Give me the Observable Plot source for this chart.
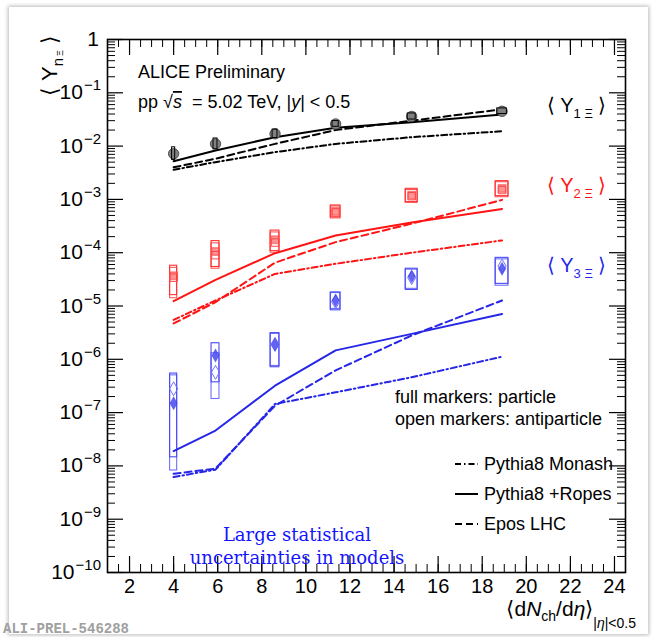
<!DOCTYPE html>
<html>
<head>
<meta charset="utf-8">
<script src="https://cdn.jsdelivr.net/npm/d3@7"></script>
<script src="https://cdn.jsdelivr.net/npm/@observablehq/plot@0.6"></script>
<style>
  html, body { margin: 0; padding: 0; background: #ffffff; }
  #wrap { position: relative; width: 652px; height: 637px; overflow: hidden; }
  #card { position: absolute; left: 9px; top: 7px; width: 639px; height: 627px;
          background: #fff; box-shadow: 0 0 4px 1px rgba(0,0,0,0.28); }
  #chart { position: absolute; left: 0; top: 0; }
</style>
</head>
<body>
<div id="wrap"><div id="card"></div><div id="chart"></div></div>
<script>
// Multiplicity classes, <dN_ch/deta> at |eta| < 0.5
const mult = [4.0, 5.9, 8.6, 11.35, 14.8, 18.9];
// Half-widths (in <dN_ch/deta>) of the systematic boxes
const boxHalfY1 = [0.07, 0.09, 0.11, 0.14, 0.18, 0.22];
const boxHalf = [0.16, 0.18, 0.2, 0.22, 0.27, 0.29];

// <Y_1Xi>
const y1Particle = [7.2e-3, 1.1e-2, 1.7e-2, 2.6e-2, 3.6e-2, 4.5e-2];
const y1SysLow = [5.5e-3, 8.7e-3, 1.42e-2, 2.3e-2, 3.15e-2, 4.0e-2];
const y1SysHigh = [9.5e-3, 1.39e-2, 2.04e-2, 2.95e-2, 4.1e-2, 5.1e-2];

// <Y_2Xi>
const y2Particle = [3.7e-5, 1.05e-4, 1.75e-4, 6.0e-4, 1.2e-3, 1.6e-3];
const y2Anti = [3.4e-5, 9.0e-5, 1.55e-4, 5.7e-4, 1.15e-3, 1.5e-3];
const y2SysLow = [1.6e-5, 5.4e-5, 1.07e-4, 4.6e-4, 8.9e-4, 1.15e-3];
const y2SysHigh = [5.7e-5, 1.65e-4, 2.6e-4, 7.7e-4, 1.58e-3, 2.2e-3];
const y2AntiSysLow = [1.4e-5, 5.0e-5, 1.0e-4, 4.4e-4, 8.6e-4, 1.1e-3];
const y2AntiSysHigh = [5.2e-5, 1.5e-4, 2.4e-4, 7.4e-4, 1.5e-3, 2.1e-3];

// <Y_3Xi>
const y3Particle = [1.5e-7, 1.18e-6, 1.9e-6, 1.27e-5, 3.6e-5, 5.0e-5];
const y3Anti = [2.8e-7, 5.7e-7, 1.9e-6, 1.2e-5, 3.4e-5, 5.6e-5];
const y3SysLow = [1.45e-8, 3.7e-7, 7.1e-7, 8.3e-6, 2.0e-5, 2.6e-5];
const y3SysHigh = [5.4e-7, 2.0e-6, 3.1e-6, 1.8e-5, 5.0e-5, 8.0e-5];
const y3AntiSysLow = [8.2e-9, 1.8e-7, 7.5e-7, 8.8e-6, 2.1e-5, 2.4e-5];
const y3AntiSysHigh = [5.0e-7, 1.3e-6, 3.0e-6, 1.75e-5, 4.8e-5, 7.5e-5];

// Model predictions: Pythia8 Monash, Pythia8 +Ropes, EPOS LHC
const monashY1 = [3.6e-3, 5.0e-3, 7.7e-3, 1.1e-2, 1.47e-2, 1.9e-2];
const ropesY1 = [5.2e-3, 8.3e-3, 1.47e-2, 2.2e-2, 2.8e-2, 3.9e-2];
const eposY1 = [4.0e-3, 5.8e-3, 1.1e-2, 2.0e-2, 3.0e-2, 4.9e-2];
const monashY2 = [5.5e-6, 1.27e-5, 4.0e-5, 6.2e-5, 1.0e-4, 1.7e-4];
const ropesY2 = [1.23e-5, 3.1e-5, 9.8e-5, 2.1e-4, 3.7e-4, 6.6e-4];
const eposY2 = [4.7e-6, 1.18e-5, 6.5e-5, 1.58e-4, 3.5e-4, 9.8e-4];
const monashY3 = [6.2e-9, 8.5e-9, 1.45e-7, 2.4e-7, 4.6e-7, 1.12e-6];
const ropesY3 = [1.9e-8, 4.6e-8, 3.2e-7, 1.47e-6, 3.0e-6, 7.1e-6];
const eposY3 = [7.1e-9, 8.9e-9, 1.35e-7, 6.2e-7, 2.8e-6, 1.27e-5];

// Axis ticks
const xMajorTicks = d3.range(2, 25, 2);
const xMinorTicks = d3.range(1, 24.51, 0.5);
const yExponents = d3.range(0, -11, -1);
const yMajorTicks = yExponents.map(e => Math.pow(10, e));
const yMinorTicks = d3.range(-10, 0).flatMap(e => d3.range(2, 10).map(k => k * Math.pow(10, e)));

// Legend entries
const modelNames = ["Pythia8 Monash", "Pythia8 +Ropes", "Epos LHC"];

// Colours
const cBlack = "#000000", cRed = "#ff1414", cBlue = "#2626e8";
const dashes = ["6,3,1.5,3", null, "7,4"];

const W = 652, H = 637;
const mL = 107, mR = 27, mT = 39, mB = 65;
const FW = W - mL - mR, FH = H - mT - mB;

const table = (ys) => mult.map((x, i) => ({x, y: ys[i]}));
const boxes = (lo, hi, half) => mult.map((x, i) => ({x1: x - half[i], x2: x + half[i], y1: lo[i], y2: hi[i]}));
const boxMark = (lo, hi, half, stroke, w = 1.1) =>
  Plot.rect(boxes(lo, hi, half), {x1: "x1", x2: "x2", y1: "y1", y2: "y2", fill: "none", stroke, strokeWidth: w});

const models = [
  [monashY1, ropesY1, eposY1, cBlack],
  [monashY2, ropesY2, eposY2, cRed],
  [monashY3, ropesY3, eposY3, cBlue]
].flatMap(([a, b, c, col]) => [a, b, c].map((ys, k) => ({ys, c: col, dash: dashes[k]})));

const plot = Plot.plot({
  width: W, height: H,
  marginLeft: mL, marginRight: mR, marginTop: mT, marginBottom: mB,
  style: {background: "transparent", fontFamily: "Liberation Sans, Arial, sans-serif", overflow: "visible"},
  x: {domain: [1, 24.5], axis: null},
  y: {type: "log", domain: [1e-10, 1], axis: null},
  marks: [
    // systematic boxes
    boxMark(y2AntiSysLow, y2AntiSysHigh, boxHalf, "#ff5a5a"),
    boxMark(y2SysLow, y2SysHigh, boxHalf, "#ff3030"),
    boxMark(y3AntiSysLow, y3AntiSysHigh, boxHalf, "#7070ff"),
    boxMark(y3SysLow, y3SysHigh, boxHalf, "#4a4af5"),
    // model curves
    ...models.map(m => Plot.line(table(m.ys), {x: "x", y: "y", stroke: m.c, strokeWidth: 2, strokeDasharray: m.dash})),
    // measured yields
    Plot.dot(table(y1Particle), {x: "x", y: "y", symbol: "circle", r: 5.2, fill: "#808080", stroke: "#3a3a3a", strokeWidth: 0.8}),
    boxMark(y1SysLow, y1SysHigh, boxHalfY1, "#000", 1),
    Plot.dot(table(y2Anti), {x: "x", y: "y", symbol: "square", r: 4.2, fill: "none", stroke: "#ff4a4a", strokeWidth: 1}),
    Plot.dot(table(y2Particle), {x: "x", y: "y", symbol: "square", r: 4.2, fill: "#ff3c3c", fillOpacity: 0.55, stroke: "#ff4a4a", strokeOpacity: 0.6}),
    Plot.dot(table(y3Anti), {x: "x", y: "y", symbol: "diamond", r: 4.2, fill: "none", stroke: "#7070ff", strokeWidth: 1}),
    Plot.dot(table(y3Particle), {x: "x", y: "y", symbol: "diamond", r: 4.2, fill: "#4848ee", fillOpacity: 0.85}),
    // ticks pointing into the frame on all four sides
    Plot.tickY(yMajorTicks, {y: d => d, insetRight: FW - 16, stroke: "#000", strokeWidth: 1.2}),
    Plot.tickY(yMajorTicks, {y: d => d, insetLeft: FW - 16, stroke: "#000", strokeWidth: 1.2}),
    Plot.tickY(yMinorTicks, {y: d => d, insetRight: FW - 8, stroke: "#000", strokeWidth: 1}),
    Plot.tickY(yMinorTicks, {y: d => d, insetLeft: FW - 8, stroke: "#000", strokeWidth: 1}),
    Plot.tickX(xMajorTicks, {x: d => d, insetTop: FH - 16, stroke: "#000", strokeWidth: 1.2}),
    Plot.tickX(xMajorTicks, {x: d => d, insetBottom: FH - 16, stroke: "#000", strokeWidth: 1.2}),
    Plot.tickX(xMinorTicks, {x: d => d, insetTop: FH - 8, stroke: "#000", strokeWidth: 1}),
    Plot.tickX(xMinorTicks, {x: d => d, insetBottom: FH - 8, stroke: "#000", strokeWidth: 1}),
    Plot.frame({stroke: "#000", strokeWidth: 1.6}),
    // x tick labels
    Plot.axisX(xMajorTicks, {anchor: "bottom", tickSize: 0, tickPadding: 6, fontSize: 20, label: null, tickFormat: d => String(d)})
  ]
});

document.getElementById("chart").appendChild(plot);

const sy = plot.scale("y").apply;
const svg = d3.select(plot);
const g = svg.append("g").attr("font-family", "Liberation Sans, Arial, sans-serif").attr("fill", "#000");

// Text with sub/superscript pieces: parts = [{t, size, dy, dx, italic, overline}]
function rich(x, y, parts, opt = {}) {
  const t = g.append("text").attr("x", x).attr("y", y)
    .attr("font-size", opt.size || 18)
    .attr("text-anchor", opt.anchor || "start")
    .attr("fill", opt.fill || "#000");
  if (opt.font) t.attr("font-family", opt.font);
  if (opt.transform) t.attr("transform", opt.transform);
  for (const p of parts) {
    const s = t.append("tspan").text(p.t);
    if (p.size) s.attr("font-size", p.size);
    if (p.dy) s.attr("dy", p.dy);
    if (p.dx) s.attr("dx", p.dx);
    if (p.italic) s.attr("font-style", "italic");
    if (p.overline) s.attr("text-decoration", "overline");
  }
  return t;
}

// y tick labels 1, 10^-1 ... 10^-10
for (const e of yExponents) {
  const y = sy(Math.pow(10, e));
  if (e === 0) {
    rich(mL - 8, y + 7, [{t: "1"}], {size: 21, anchor: "end"});
  } else {
    rich(mL - 6, y + 7, [{t: "10"}, {t: "\u2212" + (-e), size: 15, dy: -9, dx: 1}], {size: 21, anchor: "end"});
  }
}

// y axis title
rich(0, 0, [
  {t: "\u27E8 Y"}, {t: "n", size: 15, dy: 6}, {t: "\u039E", size: 9, dx: 2}, {t: " \u27E9", dy: -6}
], {size: 22, anchor: "end", transform: `translate(${mL - 50},${mT - 4}) rotate(-90)`});

// x axis title
rich(636, 616, [
  {t: "\u27E8d"}, {t: "N", italic: true}, {t: "ch", size: 14, dy: 5}, {t: "/d", dy: -5}, {t: "\u03B7", italic: true},
  {t: "\u27E9"}, {t: "|", size: 14, dy: 12}, {t: "\u03B7", size: 14, italic: true}, {t: "|<0.5", size: 14}
], {size: 21, anchor: "end"});

// header
rich(138, 78, [{t: "ALICE Preliminary"}], {size: 18});
rich(138, 108, [
  {t: "pp \u221A"}, {t: "s", italic: true, overline: true}, {t: " \u00A0= 5.02 TeV, |"}, {t: "y", italic: true}, {t: "| < 0.5"}
], {size: 18});

// species labels
const specLabel = (y, n, fill) => rich(547, y, [
  {t: "\u27E8 Y"}, {t: n + " \u039E", size: 13, dy: 6}, {t: " \u27E9", dy: -6}
], {size: 20, fill});
specLabel(112, "1", cBlack);
specLabel(192, "2", cRed);
specLabel(272, "3", cBlue);

// marker convention
rich(395, 403, [{t: "full markers: particle"}], {size: 18});
rich(395, 425, [{t: "open markers: antiparticle"}], {size: 18});

// model legend
modelNames.forEach((label, k) => {
  const yy = 470 + 30 * k;
  g.append("line").attr("x1", 455).attr("x2", 478).attr("y1", yy - 6).attr("y2", yy - 6)
    .attr("stroke", "#000").attr("stroke-width", 2).attr("stroke-dasharray", dashes[k]);
  rich(484, yy, [{t: label}], {size: 18});
});

// note on model uncertainties
const serif = "DejaVu Serif, Liberation Serif, serif";
rich(297, 541, [{t: "Large statistical"}], {size: 18, anchor: "middle", fill: "#1414ff", font: serif});
rich(297, 564, [{t: "uncertainties in models"}], {size: 18, anchor: "middle", fill: "#1414ff", font: serif});

// preliminary figure id
rich(3, 633, [{t: "ALI-PREL-546288"}], {size: 14, fill: "#a0a0a0", font: "Liberation Mono, DejaVu Sans Mono, monospace"}).attr("font-weight", "bold");
</script>
</body>
</html>
